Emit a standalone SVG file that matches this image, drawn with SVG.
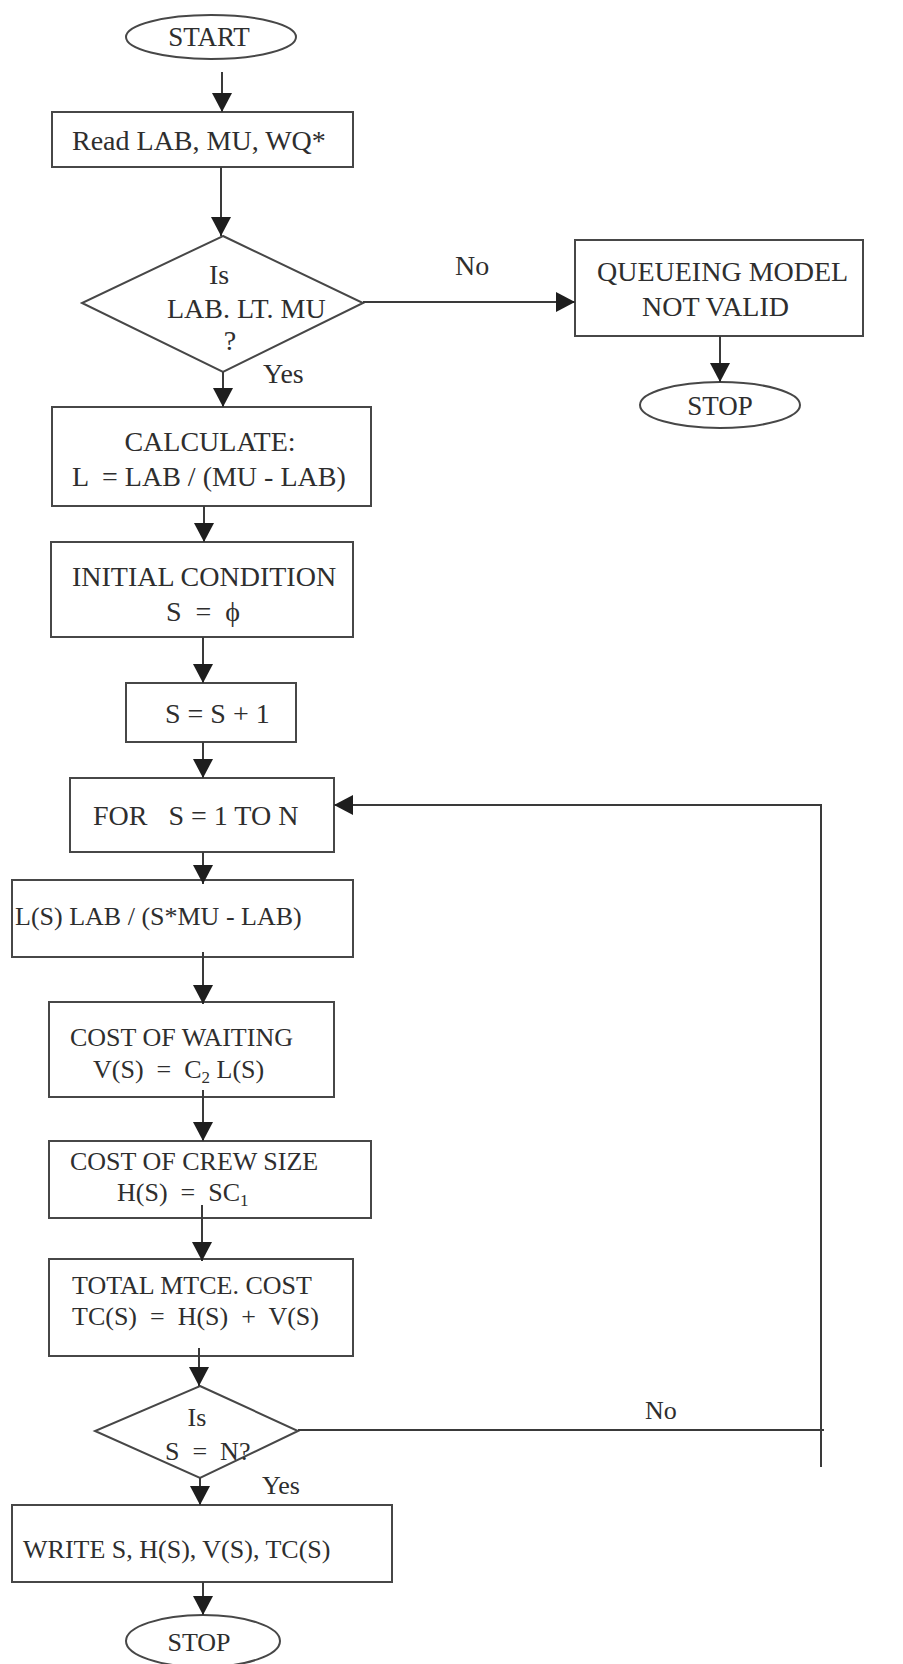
<svg xmlns="http://www.w3.org/2000/svg" width="903" height="1664" viewBox="0 0 903 1664">
<style>
.n{fill:none;stroke:#474747;stroke-width:2}
.c{fill:none;stroke:#3a3a3a;stroke-width:2}
text{font-family:"Liberation Serif","Times New Roman",serif;fill:#2e2e2e;font-size:28px}
.s{font-size:26px}
.m{text-anchor:middle}
</style>
<defs>
<marker id="ah" viewBox="0 0 19 20" markerWidth="19" markerHeight="20" refX="19" refY="10" orient="auto" markerUnits="userSpaceOnUse">
<path d="M0,0 L19,10 L0,20 z" fill="#1e1e1e"/>
</marker>
</defs>
<rect width="903" height="1664" fill="#ffffff"/>

<g id="start">
<ellipse class="n" cx="211" cy="37" rx="85" ry="22"/>
<text class="m" x="209" y="46" style="font-size:27px">START</text>
</g>

<g id="read">
<rect class="n" x="52" y="112" width="301" height="55"/>
<text x="72" y="150">Read LAB, MU, WQ*</text>
</g>

<g id="decision1">
<polygon class="n" points="223,236 363,303 223,372 82,303"/>
<text class="m" x="219" y="284">Is</text>
<text x="167" y="318">LAB. LT. MU</text>
<text class="m" x="230" y="350">?</text>
</g>

<g id="notvalid">
<rect class="n" x="575" y="240" width="288" height="96"/>
<text x="597" y="281">QUEUEING MODEL</text>
<text x="642" y="316">NOT VALID</text>
</g>

<g id="stop1">
<ellipse class="n" cx="720" cy="405" rx="80" ry="23"/>
<text class="m" x="720" y="415" style="font-size:27px">STOP</text>
</g>

<g id="calculate">
<rect class="n" x="52" y="407" width="319" height="99"/>
<text class="m" x="210" y="451">CALCULATE:</text>
<text x="72" y="486" xml:space="preserve">L  = LAB / (MU - LAB)</text>
</g>

<g id="initial">
<rect class="n" x="51" y="542" width="302" height="95"/>
<text x="72" y="586">INITIAL CONDITION</text>
<text class="m" x="203" y="621" xml:space="preserve">S  =  ϕ</text>
</g>

<g id="increment">
<rect class="n" x="126" y="683" width="170" height="59"/>
<text x="165" y="723">S = S + 1</text>
</g>

<g id="forloop">
<rect class="n" x="70" y="778" width="264" height="74"/>
<text x="93" y="825" xml:space="preserve">FOR   S = 1 TO N</text>
</g>

<g id="ls">
<rect class="n" x="12" y="880" width="341" height="77"/>
<text class="s" x="15" y="925">L(S) LAB / (S*MU - LAB)</text>
</g>

<g id="waiting">
<rect class="n" x="49" y="1002" width="285" height="95"/>
<text class="s" x="70" y="1046">COST OF WAITING</text>
<text class="s" x="93" y="1078" xml:space="preserve">V(S)  =  C<tspan font-size="17" dy="5">2</tspan><tspan dy="-5"> L(S)</tspan></text>
</g>

<g id="crew">
<rect class="n" x="49" y="1141" width="322" height="77"/>
<text class="s" x="70" y="1170">COST OF CREW SIZE</text>
<text class="s" x="117" y="1201" xml:space="preserve">H(S)  =  SC<tspan font-size="17" dy="5">1</tspan></text>
</g>

<g id="total">
<rect class="n" x="49" y="1259" width="304" height="97"/>
<text class="s" x="72" y="1294">TOTAL MTCE. COST</text>
<text class="s" x="72" y="1325" xml:space="preserve">TC(S)  =  H(S)  +  V(S)</text>
</g>

<g id="decision2">
<polygon class="n" points="200,1386 298,1431 200,1478 95,1431"/>
<text class="m s" x="197" y="1426">Is</text>
<text class="s" x="165" y="1460" xml:space="preserve">S  =  N?</text>
</g>

<g id="write">
<rect class="n" x="12" y="1505" width="380" height="77"/>
<text class="s" x="23" y="1558">WRITE S, H(S), V(S), TC(S)</text>
</g>

<g id="stop2">
<ellipse class="n" cx="203" cy="1641" rx="77" ry="26"/>
<text class="m s" x="199" y="1651">STOP</text>
</g>

<g id="connectors">
<line class="c" x1="222" y1="72" x2="222" y2="112" marker-end="url(#ah)"/>
<line class="c" x1="221" y1="167" x2="221" y2="236" marker-end="url(#ah)"/>
<line class="c" x1="223" y1="372" x2="223" y2="407" marker-end="url(#ah)"/>
<line class="c" x1="363" y1="302" x2="575" y2="302" marker-end="url(#ah)"/>
<line class="c" x1="720" y1="336" x2="720" y2="382" marker-end="url(#ah)"/>
<line class="c" x1="204" y1="506" x2="204" y2="542" marker-end="url(#ah)"/>
<line class="c" x1="203" y1="637" x2="203" y2="683" marker-end="url(#ah)"/>
<line class="c" x1="203" y1="742" x2="203" y2="778" marker-end="url(#ah)"/>
<line class="c" x1="203" y1="852" x2="203" y2="884" marker-end="url(#ah)"/>
<line class="c" x1="203" y1="952" x2="203" y2="1004" marker-end="url(#ah)"/>
<line class="c" x1="203" y1="1090" x2="203" y2="1141" marker-end="url(#ah)"/>
<line class="c" x1="202" y1="1205" x2="202" y2="1261" marker-end="url(#ah)"/>
<line class="c" x1="199" y1="1348" x2="199" y2="1386" marker-end="url(#ah)"/>
<line class="c" x1="200" y1="1478" x2="200" y2="1505" marker-end="url(#ah)"/>
<line class="c" x1="203" y1="1582" x2="203" y2="1615" marker-end="url(#ah)"/>
<line class="c" x1="298" y1="1430" x2="824" y2="1430"/>
<line class="c" x1="821" y1="1467" x2="821" y2="805"/>
<line class="c" x1="822" y1="805" x2="334" y2="805" marker-end="url(#ah)"/>
<text x="455" y="275">No</text>
<text x="263" y="383">Yes</text>
<text class="s" x="645" y="1419">No</text>
<text class="s" x="262" y="1494">Yes</text>
</g>
</svg>
